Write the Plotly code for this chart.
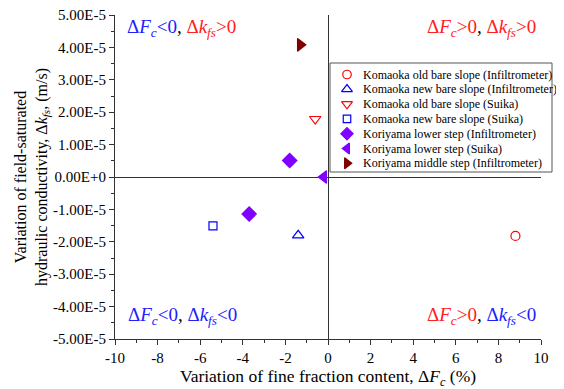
import plotly.graph_objects as go

# Data
series_names = [
    "Komaoka old bare slope (Infiltrometer)",
    "Komaoka new bare slope (Infiltrometer)",
    "Komaoka old bare slope (Suika)",
    "Komaoka new bare slope (Suika)",
    "Koriyama lower step (Infiltrometer)",
    "Koriyama lower step (Suika)",
    "Koriyama middle step (Infiltrometer)",
]
delta_fc = [
    [8.8],
    [-1.4],
    [-0.6],
    [-5.4],
    [-1.8, -3.7],
    [-0.2],
    [-1.3],
]
delta_kfs = [
    [-1.82e-5],
    [-1.80e-5],
    [1.79e-5],
    [-1.51e-5],
    [0.51e-5, -1.14e-5],
    [0.0],
    [4.08e-5],
]
symbols = ["circle-open", "triangle-up-open", "triangle-down-open", "square-open",
           "diamond", "triangle-left", "triangle-right"]
colors = ["#FF0000", "#0000FF", "#FF0000", "#0000FF", "#8000FF", "#8000FF", "#800000"]
sizes = [9, 10, 10, 8, 11, 11, 11]

y_tickvals = [-5e-5, -4e-5, -3e-5, -2e-5, -1e-5, 0, 1e-5, 2e-5, 3e-5, 4e-5, 5e-5]
y_ticktext = ["-5.00E-5", "-4.00E-5", "-3.00E-5", "-2.00E-5", "-1.00E-5", "0.00E+0",
              "1.00E-5", "2.00E-5", "3.00E-5", "4.00E-5", "5.00E-5"]
x_tickvals = [-10, -8, -6, -4, -2, 0, 2, 4, 6, 8, 10]
x_ticktext = ["-10", "-8", "-6", "-4", "-2", "0", "2", "4", "6", "8", "10"]

FONT = "Liberation Serif"
BLUE = "#2020FF"
RED = "#FF2020"
AX = "#333333"

# page geometry (the html body adds an 8px margin)
OFF = 8
W, H = 564 - OFF, 389 - OFF
L, T = 115 - OFF, 15 - OFF
PW, PH = 426, 324
R, B = W - L - PW, H - T - PH
PL, PT, PB = 115, 15, 339  # plot area edges in page pixels

def px(xp):
    return (xp - PL) / PW

def py(yp):
    return (PB - yp) / PH

fig = go.Figure()
for name, xs, ys, sym, col, sz in zip(series_names, delta_fc, delta_kfs, symbols, colors, sizes):
    fig.add_trace(go.Scatter(
        x=xs, y=ys, mode="markers", name=name, showlegend=False,
        marker=dict(symbol=sym, color=col, size=sz, line=dict(color=col, width=1.2)),
    ))

# custom legend (overlay axes in page-pixel units)
leg_x0, leg_y0, leg_x1, leg_y1 = 330, 63, 552, 172
row_y0, row_dy = 74.5, 14.8
for i, (name, sym, col, sz) in enumerate(zip(series_names, symbols, colors, sizes)):
    ry = row_y0 + i * row_dy
    fig.add_trace(go.Scatter(
        x=[347], y=[ry], xaxis="x2", yaxis="y2", mode="markers", showlegend=False,
        hoverinfo="skip", cliponaxis=False,
        marker=dict(symbol=sym, color=col, size=min(sz, 10) - 0.5, line=dict(color=col, width=1.2)),
    ))
    fig.add_annotation(xref="paper", yref="paper", x=px(361), y=py(ry),
                       xanchor="left", yanchor="middle", showarrow=False,
                       text=name, font=dict(family=FONT, size=12, color="black"))

fig.add_shape(type="rect", xref="paper", yref="paper",
              x0=px(leg_x0), x1=px(leg_x1), y0=py(leg_y1), y1=py(leg_y0),
              line=dict(color="#555555", width=1), fillcolor="white", layer="below")

def quad(fc_sign, k_sign, fc_col, k_col):
    return (f"<span style='color:{fc_col}'>Δ<i>F</i><sub><i>c</i></sub>{fc_sign}0</span>"
            f"<span style='color:black'>, </span>"
            f"<span style='color:{k_col}'>Δ<i>k</i><sub><i>fs</i></sub>{k_sign}0</span>")

ann = [
    dict(x=px(125), y=py(28), text=quad("&lt;", "&gt;", BLUE, RED), xanchor="left"),
    dict(x=px(538), y=py(28), text=quad("&gt;", "&gt;", RED, RED), xanchor="right"),
    dict(x=px(126), y=py(316), text=quad("&lt;", "&lt;", BLUE, BLUE), xanchor="left"),
    dict(x=px(538), y=py(316), text=quad("&gt;", "&lt;", RED, BLUE), xanchor="right"),
]
for a in ann:
    fig.add_annotation(xref="paper", yref="paper", yanchor="middle", showarrow=False,
                       font=dict(family=FONT, size=19), **a)

fig.update_layout(
    width=W, height=H,
    margin=dict(l=L, r=R, t=T, b=B, autoexpand=False),
    paper_bgcolor="white", plot_bgcolor="white",
    font=dict(family=FONT, size=14, color="black"),
    showlegend=False,
    xaxis=dict(
        range=[-10, 10], tickmode="array", tickvals=x_tickvals, ticktext=x_ticktext,
        automargin=False, ticklabeloverflow="allow",
        ticks="outside", ticklen=5, tickcolor=AX, showgrid=False,
        showline=True, linecolor=AX, linewidth=1.2,
        zeroline=True, zerolinecolor=AX, zerolinewidth=1.2,
        minor=dict(ticks="outside", ticklen=3, dtick=1, tick0=0, tickcolor=AX),
        title=dict(text="Variation of fine fraction content, Δ<i>F<sub>c</sub></i> (%)",
                   font=dict(family=FONT, size=17.5), standoff=0),
        tickfont=dict(family=FONT, size=15),
    ),
    yaxis=dict(
        range=[-5e-5, 5e-5], tickmode="array", tickvals=y_tickvals, ticktext=y_ticktext,
        automargin=False, ticklabeloverflow="allow",
        ticks="outside", ticklen=5, tickcolor=AX, showgrid=False,
        showline=True, linecolor=AX, linewidth=1.2,
        zeroline=True, zerolinecolor=AX, zerolinewidth=1.2,
        minor=dict(ticks="outside", ticklen=3, dtick=0.5e-5, tick0=0, tickcolor=AX),
        title=dict(text="Variation of field-saturated<br>hydraulic conductivity, Δ<i>k<sub>fs</sub></i>, (m/s)",
                   font=dict(family=FONT, size=16), standoff=1),
        tickfont=dict(family=FONT, size=15),
    ),
    xaxis2=dict(overlaying="x", range=[PL, PL + PW], visible=False, fixedrange=True),
    yaxis2=dict(overlaying="y", range=[PB, PT], visible=False, fixedrange=True),
)

fig.write_html("out.html")
